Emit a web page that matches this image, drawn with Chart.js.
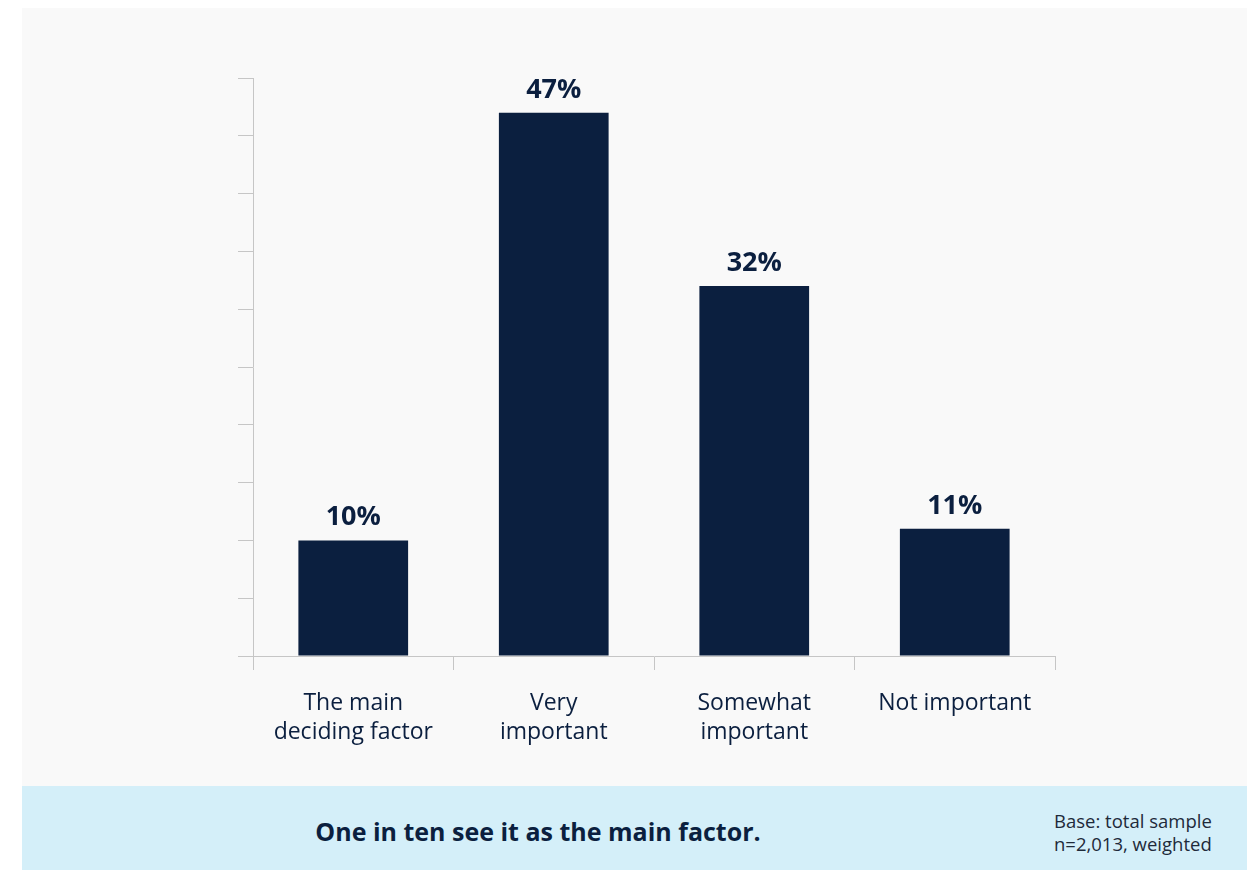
<!DOCTYPE html>
<html>
<head>
<meta charset="utf-8">
<script src="https://cdn.jsdelivr.net/npm/chart.js@4/dist/chart.umd.min.js"></script>
<style>
  html, body { margin: 0; padding: 0; background: #ffffff; }
  body { width: 1257px; height: 870px; position: relative; overflow: hidden; font-family: "Open Sans", Lato, sans-serif; }
  #panel { position: absolute; left: 22px; top: 8px; width: 1225px; height: 778px; background: #f9f9f9; }
  #footer { position: absolute; left: 22px; top: 786px; width: 1225px; height: 84px; background: #d4eff9; }
  #headline { position: absolute; left: 0; width: 1032px; top: 28px; text-align: center; font-size: 25px; font-weight: 700; color: #0b1f3f; line-height: 34px; }
  #base { position: absolute; left: 1032px; top: 23px; font-size: 18.5px; line-height: 23px; color: #1e2a3a; }
  #wrap { position: absolute; left: 0; top: 0; width: 1257px; height: 786px; }
</style>
</head>
<body>
<div id="panel"></div>
<div id="footer">
  <div id="headline">One in ten see it as the main factor.</div>
  <div id="base">Base: total sample<br>n=2,013, weighted</div>
</div>
<div id="wrap"><canvas id="chart" width="1257" height="786"></canvas></div>
<script>
// Share of respondents by how important the factor is (percent)
const categories = [
  ["The main", "deciding factor"],
  ["Very", "important"],
  ["Somewhat", "important"],
  ["Not important"]
];
const shares = [10, 47, 32, 11];
const yTicks = [0, 5, 10, 15, 20, 25, 30, 35, 40, 45, 50];

const navy = "#0b1f3f";
const axisGrey = "#c6c6c6";
const fontFamily = "'Open Sans', Lato, sans-serif";

// Writes the percentage above each bar
const valueLabels = {
  id: "valueLabels",
  afterDatasetsDraw(chart) {
    const ctx = chart.ctx;
    const meta = chart.getDatasetMeta(0);
    ctx.save();
    ctx.fillStyle = navy;
    ctx.font = "700 27px " + fontFamily;
    ctx.textAlign = "center";
    ctx.textBaseline = "alphabetic";
    meta.data.forEach((bar, i) => {
      ctx.fillText(shares[i] + "%", bar.x, bar.y - 15);
    });
    ctx.restore();
  }
};

new Chart(document.getElementById("chart"), {
  type: "bar",
  data: {
    labels: categories,
    datasets: [{
      data: shares,
      backgroundColor: navy,
      borderWidth: 0,
      barPercentage: 0.684,
      categoryPercentage: 0.8
    }]
  },
  options: {
    responsive: false,
    animation: false,
    layout: { padding: { left: 238, right: 202, top: 78, bottom: 0 } },
    plugins: { legend: { display: false }, tooltip: { enabled: false } },
    scales: {
      x: {
        afterFit(scale) { scale.height = 130; },
        grid: { display: true, drawOnChartArea: false, drawTicks: true, tickLength: 14, color: axisGrey, offset: true },
        border: { display: true, color: axisGrey, width: 1 },
        ticks: {
          color: navy,
          padding: 19,
          maxRotation: 0,
          font: { family: fontFamily, size: 23, lineHeight: 1.27 }
        }
      },
      y: {
        min: 0,
        max: 50,
        afterFit(scale) { scale.width = 15; },
        afterBuildTicks(scale) { scale.ticks = yTicks.map(v => ({ value: v })); },
        grid: { display: true, drawOnChartArea: false, drawTicks: true, tickLength: 15, color: axisGrey },
        border: { display: true, color: axisGrey, width: 1 },
        ticks: { display: false }
      }
    }
  },
  plugins: [valueLabels]
});
</script>
</body>
</html>
